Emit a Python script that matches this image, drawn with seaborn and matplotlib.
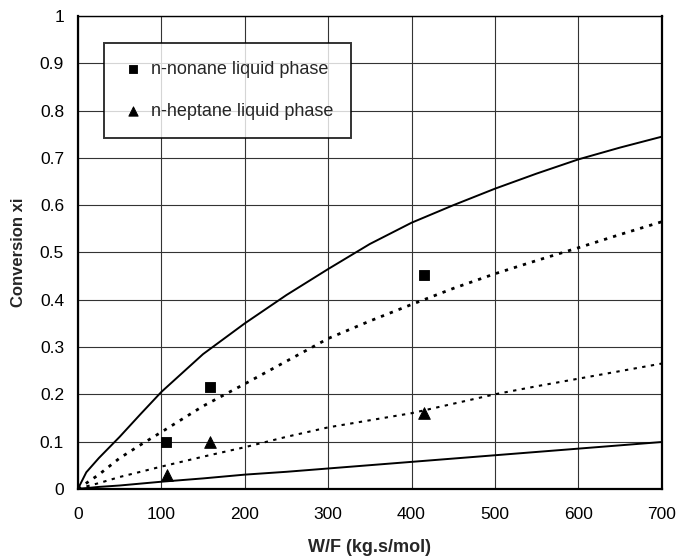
import matplotlib
matplotlib.use("Agg")
import matplotlib.pyplot as plt
import seaborn as sns
import pandas as pd

# Experimental conversions
nonane_wf = [105, 158, 415]
nonane_x = [0.100, 0.215, 0.452]
heptane_wf = [107, 158, 415]
heptane_x = [0.030, 0.100, 0.160]

# Model curves (W/F grid and conversions)
wf_grid = [0, 10, 25, 50, 75, 100, 150, 200, 250, 300, 350, 400, 450, 500, 550, 600, 650, 700]
nonane_model_a = [0, 0.035, 0.065, 0.110, 0.158, 0.205, 0.285, 0.350, 0.410, 0.465, 0.518,
                  0.563, 0.600, 0.635, 0.667, 0.697, 0.722, 0.745]
nonane_model_b = [0, 0.012, 0.030, 0.065, 0.093, 0.120, 0.175, 0.222, 0.270, 0.318, 0.355,
                  0.390, 0.424, 0.455, 0.483, 0.510, 0.538, 0.565]
heptane_model_b = [0, 0.005, 0.012, 0.025, 0.036, 0.047, 0.068, 0.088, 0.110, 0.130, 0.145,
                   0.160, 0.180, 0.200, 0.217, 0.233, 0.249, 0.265]
heptane_model_a = [0, 0.0015, 0.004, 0.007, 0.011, 0.015, 0.022, 0.030, 0.036, 0.043, 0.050,
                   0.057, 0.064, 0.071, 0.078, 0.085, 0.092, 0.099]

sns.set_theme(style="white")
plt.rcParams["font.family"] = ["Liberation Sans", "DejaVu Sans"]

fig = plt.figure(figsize=(6.78, 5.58), dpi=100)
ax = fig.add_axes([0.115, 0.124, 0.861, 0.847])

curves = pd.DataFrame({"wf": wf_grid, "na": nonane_model_a, "nb": nonane_model_b,
                       "hb": heptane_model_b, "ha": heptane_model_a})

sns.lineplot(data=curves, x="wf", y="na", ax=ax, color="black", lw=1.4, zorder=3)
sns.lineplot(data=curves, x="wf", y="ha", ax=ax, color="black", lw=1.4, zorder=3)
sns.lineplot(data=curves, x="wf", y="nb", ax=ax, color="black", lw=2.0,
             linestyle=(0, (1.2, 2.2)), zorder=3)
sns.lineplot(data=curves, x="wf", y="hb", ax=ax, color="black", lw=1.5,
             linestyle=(0, (1.6, 2.6)), zorder=3)

pts_n = pd.DataFrame({"wf": nonane_wf, "x": nonane_x})
pts_h = pd.DataFrame({"wf": heptane_wf, "x": heptane_x})
sns.scatterplot(data=pts_n, x="wf", y="x", ax=ax, marker="s", s=60, color="black",
                edgecolor="black", label="n-nonane liquid phase", zorder=4)
sns.scatterplot(data=pts_h, x="wf", y="x", ax=ax, marker="^", s=70, color="black",
                edgecolor="black", label="n-heptane liquid phase", zorder=4)

ax.set_xlim(0, 700)
ax.set_ylim(0, 1)
ax.set_xticks(range(0, 701, 100))
ax.set_yticks([i / 10 for i in range(11)])
ax.set_yticklabels(["0"] + [f"{i / 10:.1f}" for i in range(1, 10)] + ["1"])
ax.tick_params(axis="both", length=0, labelsize=12.5, colors="black")
ax.tick_params(axis="x", pad=13)
ax.tick_params(axis="y", pad=10)

ax.grid(True, color="#333333", lw=0.8)
ax.set_axisbelow(True)
for side, sp in ax.spines.items():
    sp.set_color("black")
    sp.set_linewidth(1.0 if side == "top" else 1.6)

ax.set_xlabel("W/F (kg.s/mol)", fontsize=13, fontweight="bold", labelpad=12)
ax.set_ylabel("Conversion xi", fontsize=12, fontweight="bold", labelpad=10)

leg = ax.legend(loc="upper left", bbox_to_anchor=(0.044, 0.944), frameon=True,
                fancybox=False, edgecolor="black", fontsize=13, labelspacing=1.4,
                handletextpad=0.4, handlelength=1.2, borderpad=1.0, markerscale=0.8,
                borderaxespad=0)
leg.get_frame().set_linewidth(1.4)
leg.set_zorder(5)

fig.savefig("out.png", dpi=100)
